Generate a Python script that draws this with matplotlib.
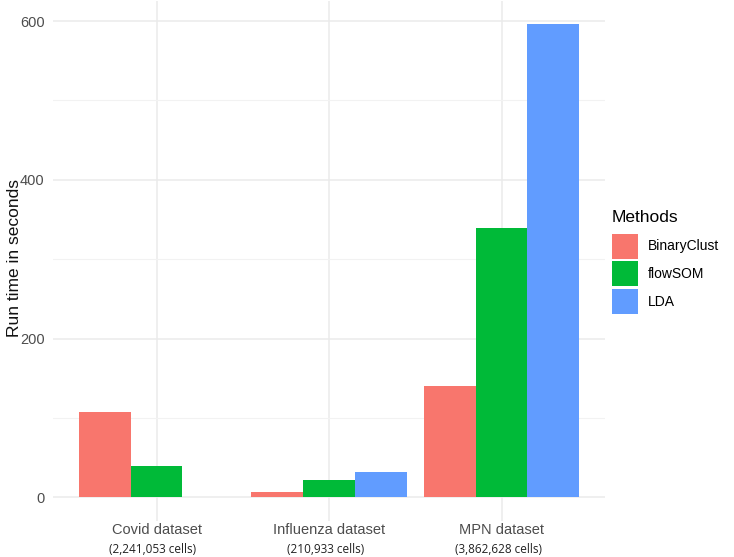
import numpy as np
import matplotlib
matplotlib.use('Agg')
import matplotlib.pyplot as plt
from matplotlib.patches import Patch

datasets = ['Covid dataset', 'Influenza dataset', 'MPN dataset']
cell_counts = ['(2,241,053 cells)', '(210,933 cells)', '(3,862,628 cells)']
methods = ['BinaryClust', 'flowSOM', 'LDA']
binaryclust = [107.5, 7, 140]
flowsom = [39.5, 21.5, 339]
lda = [0, 32.5, 596]
colors = ['#F8766D', '#00BA38', '#619CFF']

plt.rcParams['font.family'] = ['Liberation Sans', 'DejaVu Sans']

fig = plt.figure(figsize=(7.34, 5.57), dpi=100)
ax = fig.add_axes([53 / 734, 36 / 557, (605 - 53) / 734, 0.999 - 36 / 557])

x = np.arange(1, len(datasets) + 1)
w = 0.3
for i, (vals, col) in enumerate(zip([binaryclust, flowsom, lda], colors)):
    ax.bar(x + (i - 1) * w, vals, width=w, color=col, zorder=2)

ax.set_xlim(0.4, 3.6)
ax.set_ylim(-29.8, 625.8)
ax.set_yticks([0, 200, 400, 600])
ax.set_yticks([100, 300, 500], minor=True)
ax.set_xticks(x)
ax.set_xticklabels(datasets)
ax.grid(True, which='major', color='#EBEBEB', linewidth=1.1, zorder=0)
ax.grid(True, which='minor', axis='y', color='#F2F2F2', linewidth=0.8, zorder=0)
ax.set_axisbelow(True)
for s in ax.spines.values():
    s.set_visible(False)
ax.tick_params(axis='both', which='both', length=0, labelsize=10.5,
               labelcolor='#4D4D4D')
ax.tick_params(axis='x', pad=1.5)
ax.tick_params(axis='y', pad=6)

for xi, lab in zip(x, cell_counts):
    ax.text(xi - 0.02, -0.054, lab, transform=ax.get_xaxis_transform(),
            ha='center', va='center', fontsize=8.5, color='#222222',
            family=['Open Sans', 'DejaVu Sans'])

ax.set_ylabel('Run time in seconds', fontsize=12.5, color='#111111')
ax.yaxis.set_label_coords(-0.056, 0.505)

handles = [Patch(facecolor=c, edgecolor='none') for c in colors]
leg = fig.legend(handles, methods, title='Methods', loc='upper left',
                 bbox_to_anchor=(606 / 734, 1 - 204 / 557), frameon=False,
                 fontsize=10, title_fontsize=12.5, handlelength=1.87,
                 handleheight=2.39, labelspacing=0.2, handletextpad=0.72,
                 borderaxespad=0)
leg._legend_box.align = 'left'
leg._legend_box.sep = 6.5

fig.savefig('out.png', dpi=100)
